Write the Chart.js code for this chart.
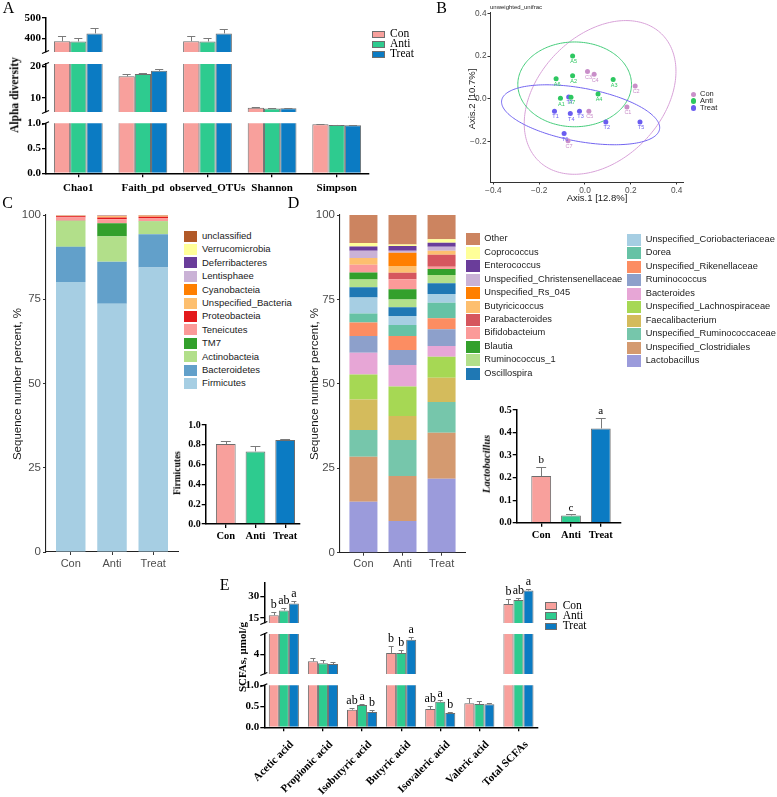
<!DOCTYPE html>
<html><head><meta charset="utf-8">
<script src="https://cdn.jsdelivr.net/npm/chart.js@4.4.1/dist/chart.umd.min.js"></script>
<style>
html,body{margin:0;padding:0;background:#fff}
body{position:relative;width:777px;height:797px;overflow:hidden}
canvas{position:absolute}
.t{position:absolute;white-space:nowrap;line-height:1}
.sw{position:absolute;box-sizing:border-box}
</style></head><body>
<script>
// ================= DATA =================
const groups = ['Con', 'Anti', 'Treat'];

// Panel A - alpha diversity
const alphaMetrics = ['Chao1', 'Faith_pd', 'observed_OTUs', 'Shannon', 'Simpson'];
const alphaCon = [385, 16.8, 385, 6.8, 0.980];
const alphaAnti = [384, 17.55, 384, 6.55, 0.967];
const alphaTreat = [424, 18.55, 424, 6.6, 0.962];
const alphaConErr = [26, 0.85, 25, 0.08, 0.004];
const alphaAntiErr = [16, 0.35, 15, 0.06, 0.004];
const alphaTreatErr = [25, 0.75, 24, 0.08, 0.004];
const alphaTicksTop = [400, 500];
const alphaTicksMid = [10, 20];
const alphaTicksLow = [0, 0.5, 1.0];

// Panel B - PCoA (unweighted unifrac)
const bConX = [0.183, 0.219, 0.011, 0.040, 0.017, -0.074];
const bConY = [-0.038, 0.060, 0.128, 0.115, -0.057, -0.195];
const bConIds = ['C1', 'C2', 'C3', 'C4', 'C5', 'C7'];
const bAntiX = [-0.107, -0.054, 0.123, 0.057, -0.054, -0.126, -0.061];
const bAntiY = [0.003, 0.108, 0.091, 0.023, 0.200, 0.094, 0.008];
const bAntiIds = ['A1', 'A2', 'A3', 'A4', 'A5', 'A6', 'A7'];
const bTreatX = [-0.133, 0.091, -0.024, -0.064, 0.240, -0.091, -0.071];
const bTreatY = [-0.057, -0.108, -0.057, -0.068, -0.108, -0.162, 0.009];
const bTreatIds = ['T1', 'T2', 'T3', 'T4', 'T5', 'T6', 'T7'];
const ellCenterX = [0.066, -0.045, -0.019];
const ellCenterY = [0.007, 0.068, -0.074];
const ellHalfX = [0.331, 0.248, 0.345];
const ellHalfY = [0.359, 0.198, 0.140];
const ellRho = [0.34, 0.0, -0.43];
const bTicksX = [-0.4, -0.2, 0, 0.2, 0.4];
const bTicksY = [-0.2, 0, 0.2, 0.4];

// Panel C - phylum composition (%), legend order top -> bottom
const phyla = ['unclassified', 'Verrucomicrobia', 'Deferribacteres', 'Lentisphaee', 'Cyanobacteia',
  'Unspecified_Bacteria', 'Proteobacteia', 'Teneicutes', 'TM7', 'Actinobacteia', 'Bacteroidetes', 'Firmicutes'];
const phylaCon = [0.05, 0.05, 0.05, 0.05, 0.05, 0.10, 0.35, 1.0, 0.05, 7.7, 10.4, 80.15];
const phylaAnti = [0.05, 0.05, 0.10, 0.05, 0.20, 0.30, 0.50, 1.2, 3.9, 7.5, 12.5, 73.65];
const phylaTreat = [0.05, 0.05, 0.05, 0.05, 0.10, 0.20, 0.40, 0.9, 0.1, 3.8, 9.9, 84.4];
const firmMean = [0.807, 0.733, 0.848];
const firmErr = [0.028, 0.050, 0.015];
const pctTicks = [0, 25, 50, 75, 100];
const firmTicks = [0, 0.2, 0.4, 0.6, 0.8, 1.0];

// Panel D - genus composition (%), legend order (left column then right column)
const genera = ['Other', 'Coprococcus', 'Enterococcus', 'Unspecified_Christensenellaceae', 'Unspecified_Rs_045',
  'Butyricicoccus', 'Parabacteroides', 'Bifidobacteium', 'Blautia', 'Ruminococcus_1', 'Oscillospira',
  'Unspecified_Coriobacteriaceae', 'Dorea', 'Unspecified_Rikenellaceae', 'Ruminococcus', 'Bacteroides',
  'Unspecified_Lachnospiraceae', 'Faecalibacterium', 'Unspecified_Ruminococcaceae', 'Unspecified_Clostridiales', 'Lactobacillus'];
const generaCon = [8.3, 1.0, 1.3, 2.1, 0.0, 2.0, 0.0, 2.3, 2.1, 2.3, 3.0, 4.8, 2.6, 4.0, 5.0, 6.4, 7.4, 9.1, 7.9, 13.3, 15.1];
const generaAnti = [8.7, 0.5, 1.4, 0.6, 3.9, 2.0, 1.9, 3.0, 3.0, 2.3, 2.6, 2.7, 3.2, 4.2, 4.4, 6.4, 8.7, 7.1, 10.7, 13.3, 9.4];
const generaTreat = [7.2, 1.0, 1.2, 1.2, 0.0, 1.2, 3.5, 0.7, 1.8, 2.4, 3.2, 2.6, 4.6, 3.2, 5.0, 3.2, 6.2, 7.2, 9.1, 13.6, 21.9];
const lactoMean = [0.207, 0.032, 0.418];
const lactoErr = [0.040, 0.005, 0.047];
const lactoSig = ['b', 'c', 'a'];
const lactoTicks = [0, 0.1, 0.2, 0.3, 0.4, 0.5];

// Panel E - SCFAs (umol/g)
const scfaNames = ['Acetic acid', 'Propionic acid', 'Isobutyric acid', 'Butyric acid', 'Isovaleric acid', 'Valeric acid', 'Total SCFAs'];
const scfaCon = [16.9, 3.02, 0.42, 4.24, 0.435, 0.57, 24.6];
const scfaAnti = [20.2, 2.74, 0.53, 4.24, 0.61, 0.555, 27.5];
const scfaTreat = [25.0, 2.62, 0.365, 6.16, 0.34, 0.55, 34.0];
const scfaConErr = [2.5, 0.42, 0.04, 1.03, 0.065, 0.13, 3.8];
const scfaAntiErr = [1.5, 0.49, 0.03, 0.42, 0.03, 0.065, 1.5];
const scfaTreatErr = [2.0, 0.25, 0.045, 0.45, 0.025, 0.035, 1.2];
const scfaConSig = ['b', '', 'ab', 'b', 'ab', '', 'b'];
const scfaAntiSig = ['ab', '', 'a', 'b', 'a', '', 'ab'];
const scfaTreatSig = ['a', '', 'b', 'a', 'b', '', 'a'];
const scfaTicksTop = [15, 30];
const scfaTicksMid = [4];
const scfaTicksLow = [0, 0.5, 1.0];

// ================= STYLE =================
const SERIF = '"Liberation Serif", "Times New Roman", serif';
const SANS = '"Liberation Sans", Arial, sans-serif';
const grpColors = ['#f8a09c', '#2ecb8f', '#0b7bc3'];
const barEdge = '#6e6e6e';
const phylaColors = ['#b15928', '#ffff99', '#6a3d9a', '#cab2d6', '#ff7f00', '#fdbf6f', '#e31a1c', '#fb9a99', '#33a02c', '#b2df8a', '#62a0ca', '#a6cee3'];
const generaColors = ['#cc8460', '#ffff99', '#6a3d9a', '#cab2d6', '#ff7f00', '#fdbf6f', '#d6565e', '#fb9a99', '#33a02c', '#b2df8a', '#1f78b4',
  '#a6cee3', '#66c2a5', '#fc8d62', '#8da0cb', '#e7a6d6', '#a6d854', '#d4bb5c', '#76c6ab', '#d49a70', '#9b9bdb'];
const pcoaPointColors = ['#c98fc9', '#2dc760', '#6a5df0'];
const pcoaEllColors = ['#d8a2d8', '#44cc7a', '#7264f0'];

Chart.defaults.font.family = SANS;

// ================= HELPERS =================
function text(s, x, y, o = {}) {
  const d = document.createElement('div');
  d.className = 't';
  d.textContent = s;
  d.style.left = x + 'px';
  d.style.top = y + 'px';
  d.style.fontFamily = o.family || SANS;
  d.style.fontSize = (o.size || 11) + 'px';
  d.style.fontWeight = o.weight || 'normal';
  d.style.fontStyle = o.style || 'normal';
  d.style.color = o.color || '#000';
  d.style.transform = o.rot ? `translate(-50%,-50%) rotate(${o.rot}deg)` : (o.center ? 'translate(-50%,-50%)' : 'translate(0,-50%)');
  document.body.appendChild(d);
}
function swatch(x, y, w, h, color, border) {
  const d = document.createElement('div');
  d.className = 'sw';
  d.style.left = x + 'px'; d.style.top = y + 'px'; d.style.width = w + 'px'; d.style.height = h + 'px';
  d.style.background = color;
  if (border === 'round') d.style.borderRadius = '50%';
  else if (border) d.style.border = '1px solid ' + border;
  document.body.appendChild(d);
}
// Creates a chart whose plot area lands exactly on rect (page pixels).
function mk(rect, pad, cfg) {
  const left = Math.floor(rect.x - pad.l), top = Math.floor(rect.y - pad.t);
  const right = Math.ceil(rect.x + rect.w + pad.r), bottom = Math.ceil(rect.y + rect.h + pad.b);
  const W = right - left, H = bottom - top;
  const c = document.createElement('canvas');
  c.width = W; c.height = H;
  c.style.left = left + 'px'; c.style.top = top + 'px';
  c.style.width = W + 'px'; c.style.height = H + 'px';
  document.body.appendChild(c);
  const o = cfg.options;
  o.responsive = false; o.maintainAspectRatio = false; o.animation = false; o.devicePixelRatio = 1;
  const pl = rect.x - left, pt = rect.y - top, pr = right - (rect.x + rect.w), pb = bottom - (rect.y + rect.h);
  const sx = o.scales.x, sy = o.scales.y;
  const xVis = sx.display !== false, yVis = sy.display !== false;
  o.layout = { padding: { left: yVis ? 0 : pl, top: pt, right: pr, bottom: xVis ? 0 : pb } };
  sx.afterFit = sc => { sc.height = pb; };
  sy.afterFit = sc => { sc.width = pl; };
  o.plugins = Object.assign({ legend: { display: false }, tooltip: { enabled: false } }, o.plugins || {});
  return new Chart(c, cfg);
}
const setTicks = vals => (s => { s.ticks = vals.map(v => ({ value: v })); });

// error bars + significance letters
const errPlugin = {
  id: 'errbars',
  afterDatasetsDraw(chart, args, opts) {
    const { ctx, chartArea: a } = chart;
    const ys = chart.scales.y;
    chart.data.datasets.forEach((ds, i) => {
      if (!ds.errs) return;
      const meta = chart.getDatasetMeta(i);
      meta.data.forEach((bar, j) => {
        const v = meta.controller.getParsed(j).y;
        const e = ds.errs[j];
        const yv = ys.getPixelForValue(v), yt = ys.getPixelForValue(v + e);
        const half = bar.width * 0.25;
        const xx = Math.round(bar.x) + 0.5, yy = Math.round(yt) + 0.5;
        ctx.save();
        ctx.beginPath(); ctx.rect(a.left, a.top - 1, a.right - a.left, a.bottom - a.top + 1); ctx.clip();
        ctx.strokeStyle = opts.color || '#7a7a7a'; ctx.lineWidth = 1;
        ctx.beginPath();
        ctx.moveTo(xx, yv); ctx.lineTo(xx, yy);
        ctx.moveTo(bar.x - half, yy); ctx.lineTo(bar.x + half, yy);
        ctx.stroke();
        ctx.restore();
        const top = v + e;
        if (ds.sig && ds.sig[j] && top <= ys.max && top >= ys.min) {
          ctx.save();
          ctx.fillStyle = '#000'; ctx.font = opts.sigFont || ('11px ' + SERIF);
          ctx.textAlign = 'center'; ctx.textBaseline = 'bottom';
          ctx.fillText(ds.sig[j], bar.x, yt - 1);
          ctx.restore();
        }
      });
    });
  }
};
// axis-break marks
const brkPlugin = {
  id: 'brk',
  afterDraw(chart, args, opts) {
    if (!opts || (!opts.top && !opts.bottom)) return;
    const { ctx, chartArea: a } = chart;
    ctx.save(); ctx.strokeStyle = '#000'; ctx.lineWidth = 1.2;
    const mark = y => { ctx.beginPath(); ctx.moveTo(a.left - 4, y + 1.5); ctx.lineTo(a.left + 3, y - 1.5); ctx.stroke(); };
    if (opts.top) mark(a.top);
    if (opts.bottom) mark(a.bottom);
    ctx.restore();
  }
};

function gpBarDs(label, data, errs, sig, color) {
  return { label, data, errs, sig, backgroundColor: color, borderColor: barEdge, borderWidth: 1, borderSkipped: 'start', clip: 0 };
}
function gpX(show, rot, pad, shift) {
  return {
    type: 'category', display: show, offset: true,
    grid: { display: true, offset: false, drawOnChartArea: false, drawTicks: true, tickLength: 4, color: '#000', lineWidth: 1.3 },
    border: { display: true, color: '#000', width: 1.5 },
    ticks: { autoSkip: false, minRotation: rot, maxRotation: rot, padding: pad, labelOffset: shift, color: '#000', font: { family: SERIF, weight: 'bold', size: 11 } }
  };
}
function gpY(min, max, ticks, dec, size) {
  return {
    type: 'linear', min, max, afterBuildTicks: setTicks(ticks),
    grid: { drawOnChartArea: false, tickLength: 4, color: '#000', lineWidth: 1.3 },
    border: { display: true, color: '#000', width: 1.5 },
    ticks: { padding: 1, color: '#000', font: { family: SERIF, weight: 'bold', size: size || 11 }, callback: v => v.toFixed(dec) }
  };
}

// ================= PANEL A =================
function alphaChart(rect, pad, min, max, ticks, dec, showX, brk) {
  return mk(rect, pad, {
    type: 'bar',
    data: {
      labels: alphaMetrics,
      datasets: [
        gpBarDs(groups[0], alphaCon, alphaConErr, null, grpColors[0]),
        gpBarDs(groups[1], alphaAnti, alphaAntiErr, null, grpColors[1]),
        gpBarDs(groups[2], alphaTreat, alphaTreatErr, null, grpColors[2])
      ]
    },
    options: {
      datasets: { bar: { categoryPercentage: 0.755, barPercentage: 1 } },
      plugins: { errbars: {}, brk },
      scales: { x: gpX(showX, 0, 4, 0), y: gpY(min, max, ticks, dec) }
    },
    plugins: [errPlugin, brkPlugin]
  });
}
alphaChart({ x: 46, y: 18, w: 323, h: 42 }, { l: 45, r: 8, t: 10, b: 8 }, 332, 500, alphaTicksTop, 0, false, { bottom: true });
alphaChart({ x: 46, y: 64, w: 323, h: 56 }, { l: 45, r: 8, t: 8, b: 8 }, 5.44, 20.74, alphaTicksMid, 0, false, { top: true, bottom: true });
alphaChart({ x: 46, y: 123.3, w: 323, h: 50 }, { l: 45, r: 10, t: 8, b: 23 }, 0, 1, alphaTicksLow, 1, true, { top: true });
text('Alpha diversity', 15, 95, { family: SERIF, weight: 'bold', size: 11.5, rot: -90 });
[34.3, 44.3, 54.3].forEach((y, i) => {
  swatch(371.7, y - 3.8, 13.3, 7.6, grpColors[i], barEdge);
  text(groups[i], 390, y, { family: SERIF, size: 11.5 });
});

// ================= PANEL B =================
const ellPlugin = {
  id: 'ell',
  beforeDatasetsDraw(chart) {
    const { ctx, scales: { x, y } } = chart;
    ellCenterX.forEach((cx, k) => {
      const r = ellRho[k], q = Math.sqrt(1 - r * r);
      ctx.save(); ctx.strokeStyle = pcoaEllColors[k]; ctx.lineWidth = 1;
      ctx.beginPath();
      for (let s = 0; s <= 200; s++) {
        const t = s / 200 * 2 * Math.PI;
        const px = x.getPixelForValue(cx + ellHalfX[k] * Math.cos(t));
        const py = y.getPixelForValue(ellCenterY[k] + ellHalfY[k] * (r * Math.cos(t) + q * Math.sin(t)));
        if (s === 0) ctx.moveTo(px, py); else ctx.lineTo(px, py);
      }
      ctx.closePath(); ctx.stroke(); ctx.restore();
    });
  }
};
const ptLabelPlugin = {
  id: 'ptlab',
  afterDatasetsDraw(chart) {
    const ctx = chart.ctx;
    chart.data.datasets.forEach((ds, i) => {
      chart.getDatasetMeta(i).data.forEach((pt, j) => {
        ctx.save(); ctx.font = '5.5px ' + SANS; ctx.fillStyle = ds.backgroundColor;
        ctx.textAlign = 'center'; ctx.textBaseline = 'top';
        ctx.fillText(ds.ids[j], pt.x + 1, pt.y + 3);
        ctx.restore();
      });
    });
  }
};
const fmtB = v => (Math.abs(v) < 1e-9 ? '0.0' : (v < 0 ? '\u2212' : '') + Math.abs(v).toFixed(1));
function pcoaDs(label, xs, ys, ids, color) {
  return { label, data: xs.map((x, i) => ({ x, y: ys[i] })), ids, backgroundColor: color, borderWidth: 0, pointRadius: 2.5 };
}
mk({ x: 490, y: 12, w: 193, h: 170 }, { l: 30, r: 10, t: 8, b: 16 }, {
  type: 'scatter',
  data: {
    datasets: [
      pcoaDs('Con', bConX, bConY, bConIds, pcoaPointColors[0]),
      pcoaDs('Anti', bAntiX, bAntiY, bAntiIds, pcoaPointColors[1]),
      pcoaDs('Treat', bTreatX, bTreatY, bTreatIds, pcoaPointColors[2])
    ]
  },
  options: {
    scales: {
      x: { type: 'linear', min: -0.4144, max: 0.4277, afterBuildTicks: setTicks(bTicksX),
        grid: { drawOnChartArea: false, tickLength: 2.5, color: '#333' }, border: { color: '#333', width: 1 },
        ticks: { padding: 1, color: '#4d4d4d', font: { size: 8.3 }, callback: fmtB } },
      y: { type: 'linear', min: -0.388, max: 0.406, afterBuildTicks: setTicks(bTicksY),
        grid: { drawOnChartArea: false, tickLength: 2.5, color: '#333' }, border: { color: '#333', width: 1 },
        ticks: { padding: 1, color: '#4d4d4d', font: { size: 8.3 }, callback: fmtB } }
    }
  },
  plugins: [ellPlugin, ptLabelPlugin]
});
text('unweighted_unifrac', 490, 6.5, { size: 6, color: '#222' });
text('Axis.1   [12.8%]', 597, 198.3, { size: 9.5, color: '#1a1a1a', center: true });
text('Axis.2   [10.7%]', 472, 99, { size: 9.5, color: '#1a1a1a', rot: -90 });
[94.3, 101.1, 107.9].forEach((y, i) => {
  swatch(690.5, y - 2.8, 5.6, 5.6, pcoaPointColors[i], 'round');
  text(groups[i], 700, y, { size: 7.5, color: '#222' });
});

// ================= PANEL C =================
function ggX(min, max) {
  return {
    type: 'linear', min, max, offset: false, stacked: true, afterBuildTicks: setTicks(groups.map((g, i) => i)),
    grid: { display: true, offset: false, drawOnChartArea: false, tickLength: 3, color: '#333' },
    border: { color: '#222', width: 1.1 },
    ticks: { padding: 2, color: '#4d4d4d', font: { size: 11 }, callback: v => groups[v] }
  };
}
function ggY() {
  return {
    type: 'linear', min: 0, max: 100, stacked: true, afterBuildTicks: setTicks(pctTicks),
    grid: { drawOnChartArea: false, tickLength: 3, color: '#333' },
    border: { color: '#222', width: 1.1 },
    ticks: { padding: 2, color: '#4d4d4d', font: { size: 11.5 }, callback: v => String(v) }
  };
}
function stackDs(names, colors, con, anti, treat, pct) {
  const out = [];
  for (let i = names.length - 1; i >= 0; i--) {
    out.push({ label: names[i], data: [con[i], anti[i], treat[i]].map((v, k) => ({ x: k, y: v })),
      backgroundColor: colors[i], borderWidth: 0, categoryPercentage: pct, barPercentage: 1 });
  }
  return out;
}
mk({ x: 46, y: 215, w: 132, h: 337 }, { l: 30, r: 6, t: 10, b: 20 }, {
  type: 'bar',
  data: { datasets: stackDs(phyla, phylaColors, phylaCon, phylaAnti, phylaTreat, 0.715) },
  options: { scales: { x: ggX(-0.6, 2.6), y: ggY() } }
});
text('Sequence number percent, %', 17.5, 383.5, { size: 11.5, color: '#1a1a1a', rot: -90 });
phyla.forEach((p, i) => {
  const y = 236 + i * 13.4;
  swatch(184, y - 5.5, 13, 11, phylaColors[i]);
  text(p, 202, y, { size: 9.5, color: '#1a1a1a' });
});
// inset: Firmicutes
function insetChart(rect, xmin, xmax, mean, err, sig, ticks, ymax) {
  return mk(rect, { l: 32, r: 6, t: 8, b: 20 }, {
    type: 'bar',
    data: { datasets: [{ data: mean.map((v, k) => ({ x: k, y: v })), errs: err, sig, backgroundColor: grpColors,
      borderColor: barEdge, borderWidth: 1, borderSkipped: 'start', categoryPercentage: 0.665, barPercentage: 1, clip: 0 }] },
    options: {
      plugins: { errbars: { sigFont: '11px ' + SERIF } },
      scales: {
        x: { type: 'linear', min: xmin, max: xmax, offset: false, afterBuildTicks: setTicks(groups.map((g, i) => i)),
          grid: { display: true, offset: false, drawOnChartArea: false, tickLength: 4, color: '#000', lineWidth: 1.3 },
          border: { color: '#000', width: 1.5 },
          ticks: { padding: 2, color: '#000', font: { family: SERIF, weight: 'bold', size: 10.5 }, callback: v => groups[v] } },
        y: { type: 'linear', min: 0, max: ymax, afterBuildTicks: setTicks(ticks),
          grid: { drawOnChartArea: false, tickLength: 4, color: '#000', lineWidth: 1.3 },
          border: { color: '#000', width: 1.5 },
          ticks: { padding: 1, color: '#000', font: { family: SERIF, weight: 'bold', size: 10 }, callback: v => v.toFixed(1) } }
      }
    },
    plugins: [errPlugin]
  });
}
insetChart({ x: 205.7, y: 425, w: 94.3, h: 99 }, -0.677, 2.5, firmMean, firmErr, null, firmTicks, 1.0);
text('Firmicutes', 178, 473, { family: SERIF, weight: 'bold', size: 9.5, rot: -90 });

// ================= PANEL D =================
mk({ x: 340, y: 215, w: 125, h: 337.7 }, { l: 30, r: 6, t: 10, b: 20 }, {
  type: 'bar',
  data: { datasets: stackDs(genera, generaColors, generaCon, generaAnti, generaTreat, 0.717) },
  options: { scales: { x: ggX(-0.6, 2.6), y: ggY() } }
});
text('Sequence number percent, %', 315, 383.5, { size: 11.5, color: '#1a1a1a', rot: -90 });
genera.forEach((g, i) => {
  const col = i < 11 ? 0 : 1, row = col ? i - 11 : i;
  const y = (col ? 240 : 239.3) + row * 13.45;
  const sx = col ? 627.3 : 465.7, tx = col ? 645.7 : 484.3;
  swatch(sx, y - 6, 14, 12, generaColors[i]);
  text(g, tx, y, { size: 9.3, color: '#1a1a1a' });
});
insetChart({ x: 516.7, y: 410, w: 104, h: 112.7 }, -0.822, 2.668, lactoMean, lactoErr, lactoSig, lactoTicks, 0.5);
text('Lactobacillus', 487, 464.3, { family: SERIF, weight: 'bold', style: 'italic', size: 10.5, rot: -90 });

// ================= PANEL E =================
function scfaChart(rect, pad, min, max, ticks, dec, showX, brk) {
  return mk(rect, pad, {
    type: 'bar',
    data: {
      labels: scfaNames,
      datasets: [
        gpBarDs(groups[0], scfaCon, scfaConErr, scfaConSig, grpColors[0]),
        gpBarDs(groups[1], scfaAnti, scfaAntiErr, scfaAntiSig, grpColors[1]),
        gpBarDs(groups[2], scfaTreat, scfaTreatErr, scfaTreatSig, grpColors[2])
      ]
    },
    options: {
      datasets: { bar: { categoryPercentage: 0.77, barPercentage: 1 } },
      plugins: { errbars: { sigFont: '12px ' + SERIF }, brk },
      scales: { x: gpX(showX, 45, 7, 8), y: gpY(min, max, ticks, dec) }
    },
    plugins: [errPlugin, brkPlugin]
  });
}
scfaChart({ x: 264.3, y: 582.7, w: 273.7, h: 48.3 }, { l: 40, r: 8, t: 10, b: 8 }, 11.54, 39.4, scfaTicksTop, 0, false, { bottom: true });
scfaChart({ x: 264.3, y: 634, w: 273.7, h: 48 }, { l: 40, r: 8, t: 10, b: 8 }, 1.16, 7.01, scfaTicksMid, 0, false, { top: true, bottom: true });
scfaChart({ x: 264.3, y: 685.3, w: 273.7, h: 42 }, { l: 60, r: 8, t: 8, b: 70 }, 0, 1, scfaTicksLow, 1, true, { top: true });
text('SCFAs, \u03bcmol/g', 241.7, 656.7, { family: SERIF, weight: 'bold', size: 11, rot: -90 });
[605.7, 615.8, 626].forEach((y, i) => {
  swatch(545, y - 3.5, 12, 7.5, grpColors[i], barEdge);
  text(groups[i], 562.7, y, { family: SERIF, size: 11.5 });
});

// ================= PANEL LETTERS =================
text('A', 8.5, 7.5, { family: SERIF, size: 16, center: true });
text('B', 441.7, 7.5, { family: SERIF, size: 16, center: true });
text('C', 7.5, 203, { family: SERIF, size: 16, center: true });
text('D', 293.5, 203, { family: SERIF, size: 16, center: true });
text('E', 224.7, 584.7, { family: SERIF, size: 16, center: true });
</script>
</body></html>
